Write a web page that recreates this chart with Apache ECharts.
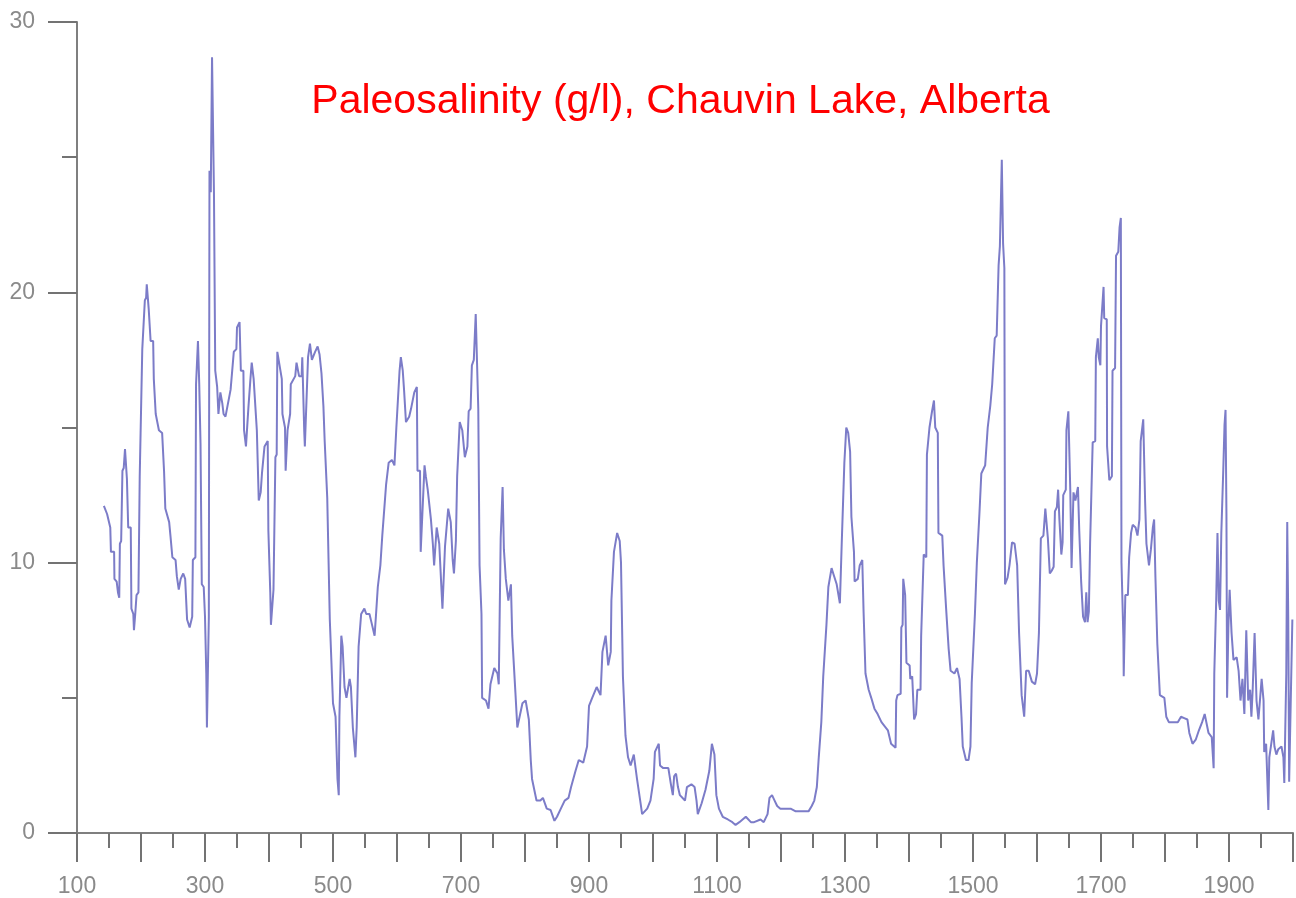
<!DOCTYPE html>
<html>
<head>
<meta charset="utf-8">
<script src="https://cdn.jsdelivr.net/npm/echarts@6/dist/echarts.min.js"></script>
<style>
html,body{margin:0;padding:0;background:#fff;}
#chart{width:1296px;height:898px;}
</style>
</head>
<body>
<div id="chart"></div>
<script>
const chartTitle = 'Paleosalinity (g/l), Chauvin Lake, Alberta';
const years = [
142,147,152,153,158,158.5,162,164,166,167,169,171,173,175,178,180,184,185,188,189,191,193,196,198,201,202,204,206,208,209,212,215,219,
220,223,228,233,236,238,244,246,249,254,256,259,262,266,269,272,276,280,281,285,286,288,289,291,293,295,298,300,302,303,306,307,309,311,314,316,319,321,324,327,329,332,
340,345,349,350,354,356,360,361,364,368,371,373,376,381,384,387,389,393,398,399,402,403,407,410,412,413,420,421,425,426,429,433,434,441,443,447,451,452,454,455,456,
461,464,467,472,476,479,482,485,487,491,495,500,504,507,509,510,513,515,518,521,526,528,531,535,537,540,544,549,552,557,560,565,567,570,574,577,580,583,587,592,596,599,
604,606,609,611,614,619,622,627,631,632,636,637,643,645,648,653,656,658,662,666,671,675,680,684,687,689,692,694,698,702,706,710,712,715,717,720,723,727,729,732,733,
739,743,746,752,757,759,762,765,767,770,774,778,780,785,788,791,796,801,806,809,811,818,824,828,834,840,846,850,856,862,868,872,879,884,891,897,900,905,912,918,
921,926,930,934,935,939,944,948,950,953,957,961,965,970,975,980,983,991,996,1001,1003,1009,1011,1016,1024,1028,1031,1033,1036,1039,1042,1050,1053,1060,1065,1068,1070,
1076,1082,1088,1092,1096,1099,1103,1109,1117,1124,1129,1135,1145,1153,1158,1168,1173,1179,1182,1186,1190,1194,1199,1215,1223,1233,1243,1248,1252,1256,1259,1263,1266,
1271,1274,1279,1283,1287,1292,1295,1299,1302,1305,1308,1310,1314,1315,1320,1323,1327,1329,1332,1337,1341,1346,1351,1357,1367,1372,1379,1380,1382,1387,1388,1390,1391,
1394,1396,1401,1402,1405,1408,1411,1413,1418,1419,1422,1423,1427,1428,1431,1432,1436,1439,1441,1445,1446,1452,1454,1458,1462,1465,1471,1475,1479,1482,1484,1489,1493,
1496,1498,1503,1506,1510,1513,1517,1519,1523,1527,1530,1534,1537,1540,1542,1545,1547,1549,1550,1554,1557,1561,1565,1569,1572,1576,1580,1583,1587,1589,1592,1597,1600,
1603,1606,1610,1613,1615,1617,1620,1623,1626,1628,1631,1633,1635,1638,1640,1641,1645,1646,1649,1652,1654,1657,1660,1664,1666,1669,1672,1675,1677,1679,1681,1683,1686,
1687,1691,1692,1695,1696.5,1699,1700,1704,1705,1709,1709.5,1713,1717,1718,1722,1723.5,1727,1729,1731,1732,1735,1735.5,1738,1742,1744,1747,1749.5,1754,1757,1760,1762,
1766,1769,1771,1775,1778,1781,1783,1785,1788,1792,1799,1802,1806,1812,1820,1825,1830,1835,1838,1843,1848,1853,1858,1862,1868,1873,1876,1877,1880,1882,1884,1886,1888,
1891,1893,1894.6,1896,1897,1899,1901,1904,1907,1912,1915,1918,1921,1924,1927,1930,1933,1935,1937,1940,1943,1946,1951,1954,1955,1958,1961.5,1963,1966,1969,1971,1974,
1977,1982,1985,1986.4,1989.5,1991,1992.6,1994,1996.5,1999
];
const salinity = [
12.1,11.8,11.3,10.4,10.4,9.4,9.3,8.9,8.7,10.7,10.8,13.4,13.5,14.2,13.1,11.3,11.3,8.3,8.1,7.5,8.1,8.8,8.9,13.2,13.2,17.9,17.9,19.7,19.8,20.3,19.4,18.2,18.2,
16.8,15.5,14.9,14.8,13.4,12.0,11.5,11.0,10.2,10.1,9.5,9.0,9.4,9.6,9.4,7.9,7.6,8.0,10.1,10.2,16.6,16.6,18.2,16.6,14.4,9.2,9.1,8.0,5.9,3.9,8.0,24.5,23.7,28.7,23.7,17.1,16.5,15.5,16.3,15.9,15.5,15.4,
16.4,17.8,17.9,18.7,18.9,17.1,17.1,14.9,14.3,15.8,16.8,17.4,16.8,14.9,12.3,12.6,13.3,14.3,14.5,11.2,8.9,7.7,9.0,13.9,14.0,17.8,16.8,15.5,15.0,13.4,14.9,15.5,16.6,16.9,17.4,16.9,16.9,17.6,15.8,14.9,14.3,
17.6,18.1,17.5,17.8,18.0,17.7,17.0,15.8,14.5,12.4,7.9,4.8,4.3,2.0,1.4,4.3,7.3,6.9,5.4,5.0,5.7,5.4,3.9,2.8,3.9,6.9,8.1,8.3,8.1,8.1,7.8,7.3,8.0,9.1,9.9,11.0,11.0,12.9,13.7,13.8,13.6,15.0,
17.1,17.6,17.1,16.4,15.2,15.4,15.7,16.3,16.5,13.4,13.4,10.4,13.6,13.2,12.7,11.6,10.7,9.9,11.3,10.7,8.3,10.6,12.0,11.5,10.1,9.6,10.8,13.2,15.2,14.9,13.9,14.3,15.6,15.7,17.3,17.5,19.2,15.7,9.9,8.1,5.0,
4.9,4.6,5.5,6.1,5.9,5.5,10.9,12.8,10.5,9.4,8.6,9.2,7.3,5.2,3.9,3.9,4.8,4.9,4.2,2.7,2.0,1.2,1.2,1.3,0.9,0.85,0.45,0.6,0.9,1.2,1.3,1.7,2.3,2.7,2.6,3.2,4.7,5.0,5.4,5.1,
6.7,7.3,6.2,6.7,8.6,10.4,11.1,10.8,10.0,5.8,3.6,2.8,2.5,2.9,2.0,1.2,0.7,0.9,1.2,2.0,3.0,3.3,2.5,2.4,2.4,1.8,1.4,2.1,2.2,1.7,1.4,1.2,1.7,1.8,1.7,1.2,0.7,
1.1,1.6,2.3,3.3,2.9,1.4,0.9,0.6,0.5,0.4,0.3,0.4,0.6,0.4,0.4,0.5,0.4,0.7,1.3,1.4,1.2,1.0,0.9,0.9,0.8,0.8,0.8,1.0,1.2,1.7,2.8,4.1,5.8,
7.7,9.1,9.8,9.5,9.2,8.5,10.8,13.7,15.0,14.8,14.1,11.7,10.4,9.3,9.4,9.9,10.1,8.2,5.9,5.3,5.0,4.6,4.4,4.1,3.8,3.3,3.15,4.9,5.1,5.15,7.6,7.7,9.4,
8.8,6.3,6.2,5.7,5.8,4.2,4.4,5.3,5.3,7.3,7.3,10.3,10.2,14.0,14.0,15.0,15.6,16.0,15.0,14.8,11.1,11.0,9.9,8.3,6.8,6.0,5.9,6.1,5.7,4.3,3.2,2.7,2.7,
3.2,5.55,8.1,10.0,11.8,13.3,13.5,13.6,15.0,15.8,16.6,18.3,18.4,21.0,21.7,24.9,21.8,20.9,9.2,9.45,9.9,10.75,10.7,9.9,7.4,5.1,4.3,6.0,6.0,6.0,5.6,5.5,5.9,
7.4,10.9,11.0,12.0,12.05,10.9,9.6,9.7,9.85,11.9,12.05,12.7,11.6,10.3,10.75,12.5,12.7,14.9,15.6,12.7,9.8,12.6,12.3,12.8,11.2,9.3,8.0,7.8,8.9,7.8,8.2,10.75,10.8,
14.45,14.5,17.6,18.3,17.6,17.3,18.75,20.2,19.05,19.0,14.3,13.05,13.2,17.1,17.2,21.35,21.5,22.4,22.75,10.0,7.2,5.8,8.8,8.8,10.2,11.1,11.4,11.3,11.0,11.6,14.5,
15.3,12.2,10.7,9.9,10.5,11.3,11.6,9.5,7.0,5.1,5.0,4.3,4.1,4.1,4.1,4.3,4.25,4.2,3.7,3.3,3.45,3.8,4.1,4.4,3.7,3.55,2.4,5.9,8.6,11.1,8.6,8.25,11.1,
13.4,15.1,15.65,11.8,5.0,7.6,9.0,7.4,6.4,6.5,6.0,4.9,5.7,4.4,7.5,4.9,5.3,4.3,5.3,7.4,4.9,4.2,5.7,4.9,3.0,3.3,0.85,2.8,3.3,3.8,3.2,2.9,
3.1,3.2,2.8,1.85,5.9,11.5,7.9,1.9,4.9,7.9
];
const xLabelStep = 200;
const xMin = 100, xMax = 2000, xTickStep = 100;
const yMin = 0, yMax = 30, yTickStep = 10;

const chart = echarts.init(document.getElementById('chart'), null, {renderer: 'canvas'});
const axisGray = '#7f7f7f';
const labelFont = 'Liberation Sans';
chart.setOption({
  animation: false,
  backgroundColor: '#ffffff',
  grid: {left: 77, right: 0, top: 22, bottom: 65, containLabel: false},
  graphic: [{
    type: 'text', x: 680.5, y: 102, silent: true,
    style: {text: chartTitle, fill: '#ff0000', font: '41px "Liberation Sans", Arial, sans-serif',
            textAlign: 'center', textVerticalAlign: 'middle'}
  }],
  xAxis: {
    type: 'value', min: xMin, max: xMax, interval: xTickStep,
    axisLine: {show: true, onZero: false, lineStyle: {color: axisGray, width: 2}},
    axisTick: {show: true, length: 29, lineStyle: {color: '#737373', width: 2}},
    minorTick: {show: true, splitNumber: 2, length: 15, lineStyle: {color: '#737373', width: 2}},
    splitLine: {show: false},
    axisLabel: {
      color: '#8a8a8a', fontSize: 23, fontFamily: labelFont, margin: 42, showMaxLabel: true,
      formatter: v => (((v - xMin) % xLabelStep === 0 && v < xMax) ? String(v) : '')
    }
  },
  yAxis: {
    type: 'value', min: yMin, max: yMax, interval: yTickStep,
    axisLine: {show: true, lineStyle: {color: axisGray, width: 2}},
    axisTick: {show: true, length: 29, lineStyle: {color: '#737373', width: 2}},
    minorTick: {show: true, splitNumber: 2, length: 15, lineStyle: {color: '#737373', width: 2}},
    splitLine: {show: false},
    axisLabel: {color: '#8a8a8a', fontSize: 23, fontFamily: labelFont, margin: 42}
  },
  series: [{
    type: 'line',
    data: years.map((y, i) => [y, salinity[i]]),
    symbol: 'none',
    smooth: false,
    lineStyle: {color: '#7c7cc8', width: 2},
    clip: true
  }]
});
</script>
</body>
</html>
